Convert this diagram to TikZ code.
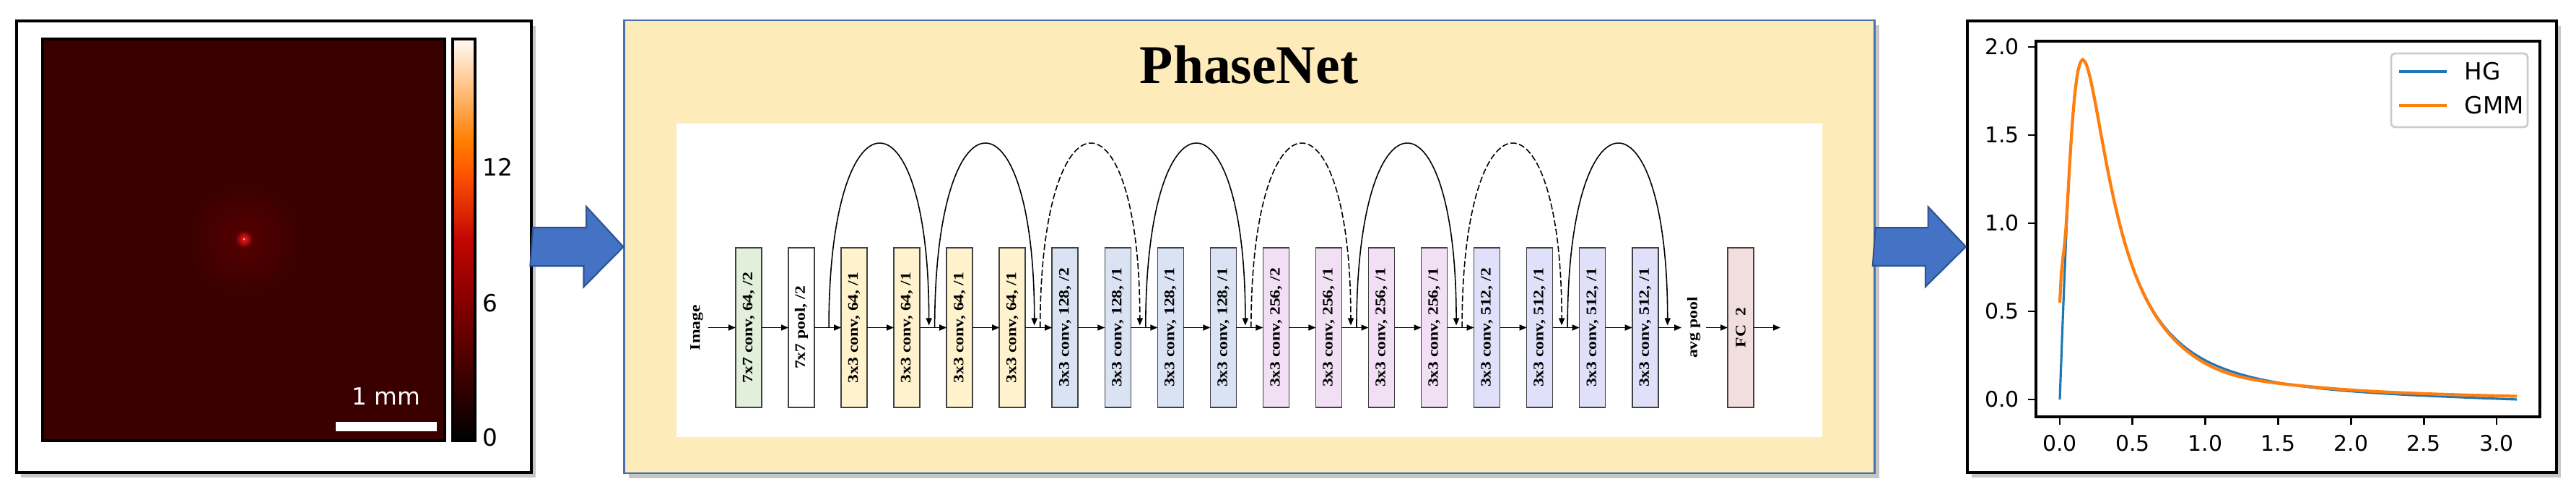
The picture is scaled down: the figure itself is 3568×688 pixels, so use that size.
\documentclass[tikz,border=0pt]{standalone}
\usepackage{fontspec}
\usepackage{graphicx}
\setmainfont{Liberation Serif}
\newfontfamily\djv{DejaVu Sans}
\usetikzlibrary{arrows.meta,positioning,calc,shadows}

\definecolor{netbg}{HTML}{FDEBBA}
\definecolor{netline}{HTML}{4A6FAE}
\definecolor{arrowblue}{HTML}{4472C4}
\definecolor{arrowline}{HTML}{2F528F}
\definecolor{cgreen}{HTML}{E2EFDA}
\definecolor{cyellow}{HTML}{FFF2CC}
\definecolor{cblue}{HTML}{DAE3F3}
\definecolor{cpink}{HTML}{F1E0F4}
\definecolor{cviolet}{HTML}{E0E0FA}
\definecolor{cfc}{HTML}{F2DEDE}
\definecolor{heatbg}{RGB}{58,0,0}
\definecolor{heatA}{RGB}{130,0,0}
\definecolor{heatB}{RGB}{195,5,0}
\definecolor{heatC}{RGB}{255,85,0}
\definecolor{heatD}{RGB}{255,128,0}
\definecolor{heatE}{RGB}{255,191,128}
\definecolor{heatF}{RGB}{255,250,245}
\definecolor{hgblue}{HTML}{1F77B4}
\definecolor{gmmorange}{HTML}{FF7F0E}

\pgfdeclareverticalshading{heatbar}{100bp}{color(0bp)=(black); color(25bp)=(black);
  color(42bp)=(heatA); color(50bp)=(heatB); color(58.3bp)=(heatC); color(62.5bp)=(heatD);
  color(68.75bp)=(heatE); color(75bp)=(heatF); color(100bp)=(heatF)}

\newcommand{\vtext}[1]{\rotatebox{90}{\scalebox{1.18}[1]{#1}}}

\begin{document}
\begin{tikzpicture}[
    x=0.01cm, y=-0.01cm,
    node distance=0.37cm,
    panel/.style={draw=black, line width=1.1pt, fill=white, inner sep=0pt,
        drop shadow={shadow xshift=0.06cm, shadow yshift=-0.07cm, fill=black!50, opacity=0.45}},
    convblk/.style={draw=black!75, line width=0.45pt, minimum width=0.36cm, minimum height=2.21cm,
        inner sep=0pt, outer sep=0pt, font=\fontsize{5.7}{6}\selectfont\bfseries},
    lbl/.style={inner sep=0.07cm, font=\fontsize{5.7}{6}\selectfont\bfseries},
    flow/.style={-{Triangle[length=0.1cm, width=0.08cm]}, line width=0.5pt},
    skip/.style={-{Triangle[length=0.1cm, width=0.08cm]}, line width=0.45pt},
    bigarrow/.style={fill=arrowblue, draw=arrowline, line width=0.6pt},
    ticklbl/.style={font=\djv\fontsize{8.5}{10}\selectfont, inner sep=0pt},
]
\useasboundingbox (0,0) rectangle (3568,688);

% three panels
\node[panel, minimum width=7.13cm, minimum height=6.25cm] (psf) at (379.5,341.5) {};
\node[panel, draw=netline, line width=0.6pt, fill=netbg, minimum width=17.31cm, minimum height=6.265cm] (net) at (1730.5,341.75) {};
\node[panel, minimum width=8.16cm, minimum height=6.25cm] (plt) at (3133,341.5) {};

% big arrows between the panels
\draw[bigarrow] ($(psf.east)+(0,-26.5)$) -- ++(74,0) -- ++(0,-29) -- (net.west) -- ++(-55,55.5) -- ++(0,-29) -- ++(-74,0) -- cycle;
\draw[bigarrow] ($(net.east)+(0,-26.5)$) -- ++(73,0) -- ++(0,-29) -- (plt.west) -- ++(-56,55.5) -- ++(0,-29) -- ++(-73,0) -- cycle;

% intensity image and colour bar
\fill[heatbg] (59,54) rectangle (616,610);
\shade[inner color=heatbg!86!red, outer color=heatbg] (338,331) circle[radius=0.8cm];
\shade[inner color=red!90!white, outer color=heatbg!86!red] (338,331) circle[radius=0.12cm];
\fill[white!85!yellow] (338,331) circle[radius=0.012cm];
\draw[line width=1pt] (59,54) rectangle (616,610);
\fill[white] (465,584) rectangle (605,597);
\node[text=white, font=\djv\fontsize{9.3}{11}\selectfont] (sbar) at (535,549) {1 mm};
\shade[shading=heatbar] (627,54) rectangle (658,610);
\draw[line width=1.1pt] (627,54) rectangle (658,610);
\node[ticklbl, font=\djv\fontsize{9.3}{11}\selectfont, anchor=west] (cb12) at (668,231) {12};
\node[ticklbl, font=\djv\fontsize{9.3}{11}\selectfont, anchor=west] (cb6) at (668,420) {6};
\node[ticklbl, font=\djv\fontsize{9.3}{11}\selectfont, anchor=west] (cb0) at (668,606) {0};

% network
\node[fill=white, minimum width=15.87cm, minimum height=4.34cm, inner sep=0pt] (board) at (1730.5,388) {};
\node[anchor=base, font=\fontsize{21.5}{24}\selectfont\bfseries] (title) at (1730,116) {PhaseNet};

\node[lbl] (img) at (965,453.5) {\vtext{Image}};
\node[convblk, fill=cgreen] (b1) at (1037,453.5) {\vtext{7x7 conv, 64, /2}};
\node[convblk, fill=white, right=of b1] (b2) {\vtext{7x7 pool, /2}};
\node[convblk, fill=cyellow, right=of b2] (b3) {\vtext{3x3 conv, 64, /1}};
\node[convblk, fill=cyellow, right=of b3] (b4) {\vtext{3x3 conv, 64, /1}};
\node[convblk, fill=cyellow, right=of b4] (b5) {\vtext{3x3 conv, 64, /1}};
\node[convblk, fill=cyellow, right=of b5] (b6) {\vtext{3x3 conv, 64, /1}};
\node[convblk, fill=cblue, right=of b6] (b7) {\vtext{3x3 conv, 128, /2}};
\node[convblk, fill=cblue, right=of b7] (b8) {\vtext{3x3 conv, 128, /1}};
\node[convblk, fill=cblue, right=of b8] (b9) {\vtext{3x3 conv, 128, /1}};
\node[convblk, fill=cblue, right=of b9] (b10) {\vtext{3x3 conv, 128, /1}};
\node[convblk, fill=cpink, right=of b10] (b11) {\vtext{3x3 conv, 256, /2}};
\node[convblk, fill=cpink, right=of b11] (b12) {\vtext{3x3 conv, 256, /1}};
\node[convblk, fill=cpink, right=of b12] (b13) {\vtext{3x3 conv, 256, /1}};
\node[convblk, fill=cpink, right=of b13] (b14) {\vtext{3x3 conv, 256, /1}};
\node[convblk, fill=cviolet, right=of b14] (b15) {\vtext{3x3 conv, 512, /2}};
\node[convblk, fill=cviolet, right=of b15] (b16) {\vtext{3x3 conv, 512, /1}};
\node[convblk, fill=cviolet, right=of b16] (b17) {\vtext{3x3 conv, 512, /1}};
\node[convblk, fill=cviolet, right=of b17] (b18) {\vtext{3x3 conv, 512, /1}};
\node[lbl] (pool) at (2346,453.5) {\vtext{avg pool}};
\node[convblk, fill=cfc] (fc) at (2411,453.5) {\vtext{FC\ \ 2}};
\coordinate (out) at (2466,453.5);

\draw[flow] (img) -- (b1);
\draw[flow] (b1) -- (b2);
\draw[flow] (b2) -- (b3);
\draw[flow] (b3) -- (b4);
\draw[flow] (b4) -- (b5);
\draw[flow] (b5) -- (b6);
\draw[flow] (b6) -- (b7);
\draw[flow] (b7) -- (b8);
\draw[flow] (b8) -- (b9);
\draw[flow] (b9) -- (b10);
\draw[flow] (b10) -- (b11);
\draw[flow] (b11) -- (b12);
\draw[flow] (b12) -- (b13);
\draw[flow] (b13) -- (b14);
\draw[flow] (b14) -- (b15);
\draw[flow] (b15) -- (b16);
\draw[flow] (b16) -- (b17);
\draw[flow] (b17) -- (b18);
\draw[flow] (b18) -- (pool);
\draw[flow] (pool) -- (fc);
\draw[flow] (fc) -- (out);

% shortcut arcs
\coordinate (s1) at ($(b2.east)+(20,0)$);
\coordinate (e1) at ($(b4.east)+(12.5,-3)$);
\coordinate (s2) at ($(b4.east)+(20.5,0)$);
\coordinate (e2) at ($(b6.east)+(12.5,-3)$);
\coordinate (s3) at ($(b6.east)+(20.5,0)$);
\coordinate (e3) at ($(b8.east)+(12.5,-3)$);
\coordinate (s4) at ($(b8.east)+(20.5,0)$);
\coordinate (e4) at ($(b10.east)+(12.5,-3)$);
\coordinate (s5) at ($(b10.east)+(20.5,0)$);
\coordinate (e5) at ($(b12.east)+(12.5,-3)$);
\coordinate (s6) at ($(b12.east)+(20.5,0)$);
\coordinate (e6) at ($(b14.east)+(12.5,-3)$);
\coordinate (s7) at ($(b14.east)+(20.5,0)$);
\coordinate (e7) at ($(b16.east)+(12.5,-3)$);
\coordinate (s8) at ($(b16.east)+(20.5,0)$);
\coordinate (e8) at ($(b18.east)+(13,-3)$);
\draw[skip] (s1) .. controls +(0,-337) and +(0,-337) .. (e1);
\draw[skip] (s2) .. controls +(0,-337) and +(0,-337) .. (e2);
\draw[skip, dash pattern=on 2.4pt off 1pt] (s3) .. controls +(0,-337) and +(0,-337) .. (e3);
\draw[skip] (s4) .. controls +(0,-337) and +(0,-337) .. (e4);
\draw[skip, dash pattern=on 2.4pt off 1pt] (s5) .. controls +(0,-337) and +(0,-337) .. (e5);
\draw[skip] (s6) .. controls +(0,-337) and +(0,-337) .. (e6);
\draw[skip, dash pattern=on 2.4pt off 1pt] (s7) .. controls +(0,-337) and +(0,-337) .. (e7);
\draw[skip] (s8) .. controls +(0,-337) and +(0,-337) .. (e8);

% phase function plot
\draw[hgblue, line width=0.9pt] plot[domain=0:3.1416, samples=300]
    ({2853+201.67*\x}, {553-43.92*sin(\x r)/((1.64-1.6*cos(\x r))*sqrt(1.64-1.6*cos(\x r)))});
\draw[gmmorange, line width=1.2pt] plot[domain=0:3.1416, samples=300]
    ({2853+201.67*\x}, {553-244*(0.18*sin(\x r)/((1.64-1.6*cos(\x r))*sqrt(1.64-1.6*cos(\x r)))
      + 0.55*exp(-min(20,(\x/0.03)*(\x/0.03))) + 0.018*(\x/3.1416)*(\x/3.1416)
      - 0.02*exp(-min(20,((\x-1.1)/0.4)*((\x-1.1)/0.4))))});
\draw[line width=1.3pt] (2820,57) rectangle (3518,577);
\foreach \v/\lab [count=\k] in {0/0.0, 0.5/0.5, 1/1.0, 1.5/1.5, 2/2.0}
    \draw[line width=0.8pt] (2820,{553-244*\v}) -- ++(-11,0) node[ticklbl, anchor=east, xshift=-0.11cm] (yt\k) {\lab};
\foreach \v/\lab [count=\k] in {0/0.0, 0.5/0.5, 1/1.0, 1.5/1.5, 2/2.0, 2.5/2.5, 3/3.0}
    \draw[line width=0.8pt] ({2853+201.67*\v},577) -- ++(0,11) node[ticklbl, anchor=north, yshift=-0.13cm] (xt\k) {\lab};

% legend
\draw[draw=black!20, line width=0.8pt, rounded corners=0.05cm, fill=white] (3312,74) rectangle (3501,176);
\draw[hgblue, line width=1.1pt] (3323,99) -- (3389,99);
\draw[gmmorange, line width=1.3pt] (3323,146) -- (3389,146);
\node[ticklbl, font=\djv\fontsize{9.3}{11}\selectfont, anchor=west] (lhg) at (3413,99) {HG};
\node[ticklbl, font=\djv\fontsize{9.3}{11}\selectfont, anchor=west] (lgmm) at (3413,146) {GMM};
\end{tikzpicture}
\end{document}
